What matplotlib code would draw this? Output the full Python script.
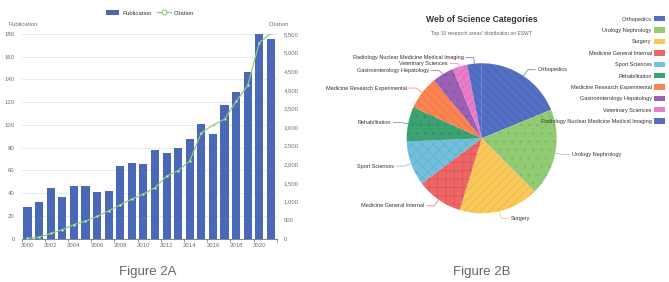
import numpy as np
import matplotlib
matplotlib.use("Agg")
import matplotlib.pyplot as plt
from matplotlib.patches import Patch
from matplotlib.lines import Line2D

plt.rcParams['font.family'] = ['Liberation Sans', 'DejaVu Sans']
plt.rcParams['hatch.linewidth'] = 0.5

# --- Figure 2A data ---
years = list(range(2000, 2022))
publications = [28, 32, 45, 37, 46, 46, 41, 42, 64, 67, 66, 78, 75, 80, 88, 101,
                92, 118, 129, 147, 180, 176]
citations = [10, 40, 140, 240, 380, 470, 600, 750, 910, 1065, 1200, 1370, 1680,
             1830, 2090, 2850, 3050, 3210, 3690, 4120, 5270, 5520]

# --- Figure 2B data ---
categories = ["Orthopedics", "Urology Nephrology", "Surgery", "Medicine General Internal",
              "Sport Sciences", "Rehabilitation", "Medicine Research Experimental",
              "Gastroenterology Hepatology", "Veterinary Sciences",
              "Radiology Nuclear Medicine Medical Imaging"]
shares = [18.8, 18.8, 17.2, 10.0, 9.6, 7.5, 7.2, 4.7, 3.2, 3.1]

palette = ['#5470c6', '#91cc75', '#fac858', '#ee6666', '#73c0de', '#3ba272',
           '#fc8452', '#9a60b4', '#ea7ccc', '#5470c6']
hatch_cols = ['#4660ad', '#7fb862', '#e2b244', '#d85656', '#62adca', '#318f62',
              '#e6743f', '#8752a0', '#d36bb8', '#4660ad']
hatches = ['\\\\\\\\', '..', '////', '++', 'xxx', '..', '\\\\\\\\', '..', '////', '\\\\\\\\']
label_dy = [0, 0, 0, 0, 0, 0, 0, -3, -4, -1.5]   # px nudges like echarts label layout

grey = '#6e7079'
W, H = 669, 282
fig = plt.figure(figsize=(W / 100, H / 100), dpi=100)

# ---------------- Figure 2A ----------------
ax = fig.add_axes([21.7 / W, 1 - 238.7 / H, 255 / W, 204.7 / H])
x = np.arange(len(years))
ax.bar(x, publications, width=0.7, color='#4a68b8', zorder=2)
ax.set_xlim(-0.5, len(years) - 0.5)
ax.set_ylim(0, 180)
ax.set_yticks(range(0, 181, 20))
ax.grid(axis='y', color='#e0e6f1', linewidth=0.6, zorder=0)
for s in ['top', 'right', 'left']:
    ax.spines[s].set_visible(False)
ax.spines['bottom'].set_color(grey)
ax.spines['bottom'].set_linewidth(0.6)
ax.set_xticks(x[::2])
ax.set_xticklabels([str(y) for y in years[::2]])
ax.tick_params(axis='x', length=0, labelsize=4.3, labelcolor=grey, pad=3)
ax.tick_params(axis='y', length=0, labelsize=4.3, labelcolor=grey, pad=5)
ax.set_xticks(np.arange(-0.5, len(years), 2), minor=True)
ax.tick_params(axis='x', which='minor', length=2, color=grey, width=0.5)
ax.text(-0.05, 1.035, "Publication", transform=ax.transAxes, fontsize=4.3,
        color=grey, ha='left', va='bottom')

ax2 = ax.twinx()
ax2.plot(x, citations, color='#91cc75', linewidth=0.9, marker='o', markersize=1.4,
         markerfacecolor='#dff0d4', markeredgecolor='#91cc75', markeredgewidth=0.4,
         zorder=3)
ax2.set_ylim(0, 5500)
ax2.set_yticks(range(0, 5501, 500))
ax2.set_yticklabels([f"{v:,}" for v in range(0, 5501, 500)])
for s in ax2.spines.values():
    s.set_visible(False)
ax2.tick_params(axis='y', length=0, labelsize=4.3, labelcolor=grey, pad=5)
ax2.text(0.97, 1.035, "Citation", transform=ax2.transAxes, fontsize=4.3,
         color=grey, ha='left', va='bottom')

handles = [Patch(facecolor='#4a68b8', edgecolor='none'),
           Line2D([0], [0], color='#91cc75', linewidth=0.9, marker='o', markersize=3.5,
                  markerfacecolor='white', markeredgecolor='#91cc75', markeredgewidth=0.8)]
fig.legend(handles, ["Publication", "Citation"], loc='center',
           bbox_to_anchor=(150 / W, 1 - 13 / H), ncol=2, frameon=False, fontsize=4.3,
           handlelength=2.2, handleheight=1.0, columnspacing=1.0, handletextpad=0.5,
           labelcolor='#333333')

fig.text(148 / W, 1 - 272 / H, "Figure 2A", fontsize=9.5, color='#666666',
         ha='center', va='center')

# ---------------- Figure 2B ----------------
cx, cy, R = 481.7, 138.3, 75
pax = fig.add_axes([(cx - R) / W, 1 - (cy + R) / H, 2 * R / W, 2 * R / H])
wedges, _ = pax.pie(shares, colors=palette, startangle=90, counterclock=False,
                    radius=1, wedgeprops=dict(linewidth=0))
pax.set_xlim(-1, 1)
pax.set_ylim(-1, 1)
pax.axis('off')
for w, h, hc in zip(wedges, hatches, hatch_cols):
    w.set_hatch(h)
    w.set_edgecolor(hc)
    w.set_linewidth(0)

for w, name, col, dy in zip(wedges, categories, palette, label_dy):
    mid = np.deg2rad((w.theta1 + w.theta2) / 2)
    ex, ey = np.cos(mid), np.sin(mid)
    bx, by = 1.1 * ex, 1.1 * ey + dy / R
    side = 1 if ex >= 0 else -1
    tx = bx + side * 0.1
    pax.plot([ex, bx, tx], [ey, by, by], color=col, linewidth=0.5, clip_on=False)
    pax.text(tx + side * 0.03, by, name, fontsize=4, color='#333333',
             ha='left' if side > 0 else 'right', va='center', clip_on=False)

fig.text(cx / W, 1 - 20 / H, "Web of Science Categories", fontsize=6.2,
         fontweight='bold', color='#333333', ha='center', va='center')
fig.text(cx / W, 1 - 33 / H, "Top 10 research areas' distribution on ESWT",
         fontsize=3.6, color='#666666', ha='center', va='center')

leg_handles = [Patch(facecolor=c, edgecolor='none') for c in palette]
fig.legend(leg_handles, categories, loc='upper right',
           bbox_to_anchor=(665 / W, 1 - 16 / H), frameon=False, fontsize=4,
           markerfirst=False, handlelength=2.0, handleheight=1.1,
           labelspacing=1.05, handletextpad=0.4, borderpad=0, borderaxespad=0,
           labelcolor='#333333')

fig.text(cx / W, 1 - 272 / H, "Figure 2B", fontsize=9.5, color='#666666',
         ha='center', va='center')

fig.savefig("out.png", dpi=100)
